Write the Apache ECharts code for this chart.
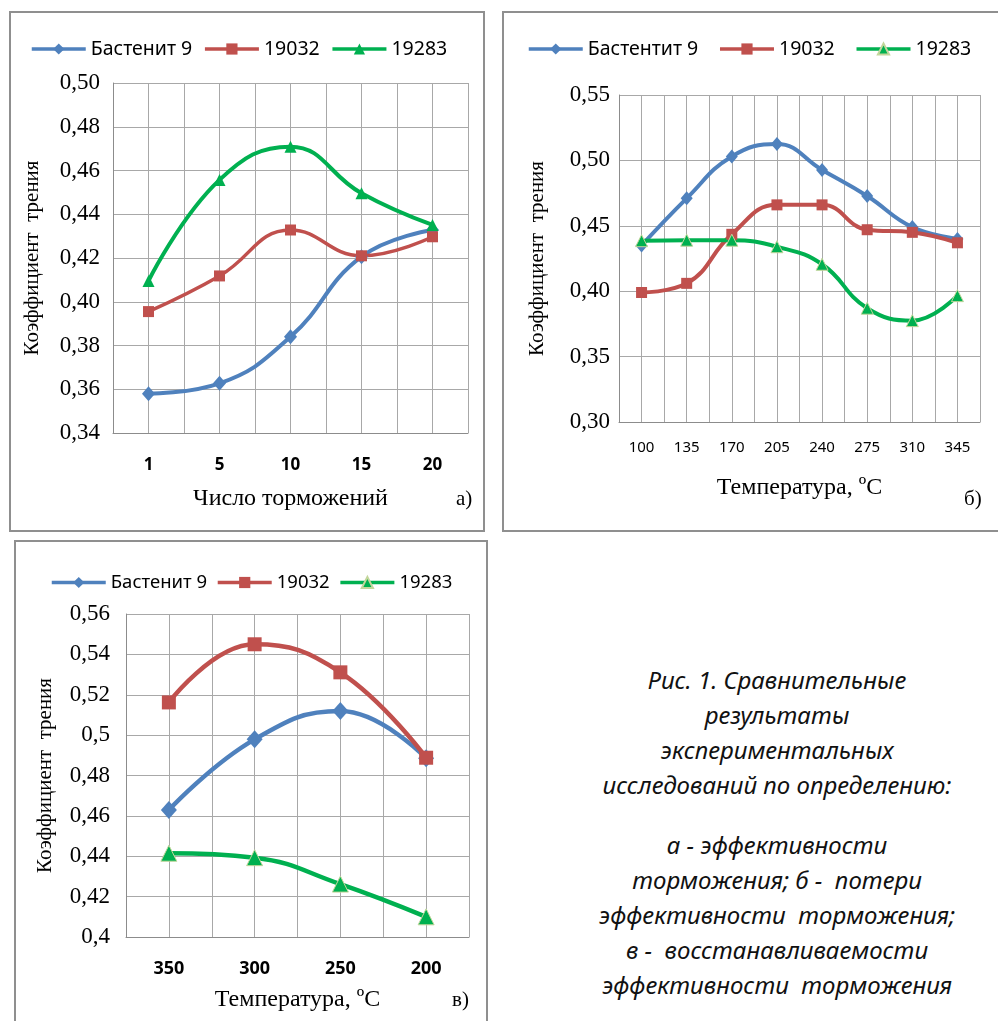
<!DOCTYPE html>
<html>
<head>
<meta charset="utf-8">
<script src="https://cdn.jsdelivr.net/npm/echarts@6/dist/echarts.min.js"></script>
<style>
    body { margin: 0; width: 998px; height: 1021px; background: #fff; position: relative; overflow: hidden; }
    .frame { position: absolute; border: 2px solid #8f8f8f; box-sizing: border-box; }
    .chart { position: absolute; }
    .caption { position: absolute; left: 547px; top: 662px; width: 460px; text-align: center;
        font-family: "Noto Sans", sans-serif; font-style: italic; font-size: 24px; line-height: 35px; color: #111; }
    .caption p { margin: 0; white-space: nowrap; }
</style>
</head>
<body>
<!-- рамки -->
<div class="frame" style="left:9px;top:11px;width:476px;height:521px;"></div>
<div class="frame" style="left:502px;top:11px;width:510px;height:521px;"></div>
<div class="frame" style="left:14px;top:540px;width:474px;height:500px;"></div>

<div id="chartA" class="chart" style="left:10px;top:12px;width:473px;height:518px;"></div>
<div id="chartB" class="chart" style="left:503px;top:12px;width:495px;height:519px;"></div>
<div id="chartC" class="chart" style="left:15px;top:541px;width:471px;height:480px;"></div>

<div class="caption">
    <p>Рис. 1. Сравнительные</p>
    <p>результаты</p>
    <p>экспериментальных</p>
    <p>исследований по определению:</p>
    <p style="margin-top:25px;">а - эффективности</p>
    <p>торможения; б -&nbsp; потери</p>
    <p>эффективности&nbsp; торможения;</p>
    <p>в -&nbsp; восстанавливаемости</p>
    <p>эффективности&nbsp; торможения</p>
</div>

<script>
// а) число торможений
const catsA = ['1', '5', '10', '15', '20'];
const bastA = [0.358, 0.3627, 0.384, 0.4206, 0.4328];
const s19032A = [0.3955, 0.4118, 0.4328, 0.421, 0.4297];
const s19283A = [0.4095, 0.4557, 0.4709, 0.4496, 0.4351];

// б) температура, потеря эффективности
const catsB = ['100', '135', '170', '205', '240', '275', '310', '345'];
const bastB = [0.435, 0.471, 0.503, 0.5125, 0.4927, 0.4728, 0.449, 0.440];
const s19032B = [0.399, 0.406, 0.4435, 0.466, 0.466, 0.447, 0.445, 0.437];
const s19283B = [0.4386, 0.439, 0.439, 0.434, 0.4206, 0.387, 0.3775, 0.3966];

// в) восстанавливаемость
const catsC = ['350', '300', '250', '200'];
const bastC = [0.4629, 0.4979, 0.5119, 0.4885];
const s19032C = [0.5162, 0.545, 0.5311, 0.4888];
const s19283C = [0.4415, 0.4393, 0.4262, 0.410];

const BLUE = '#4F81BD', RED = '#C0504D', GREEN = '#00B050';
const SERIF = '"Liberation Serif", serif';
const SANS = '"Noto Sans", sans-serif';

function lineSeries(name, data, color, symbol, size, width, border) {
    return {
        name: name,
        type: 'line',
        data: data,
        smooth: 0.45,
        symbol: symbol,
        symbolSize: size,
        lineStyle: { color: color, width: width },
        itemStyle: { color: color, borderColor: border || color, borderWidth: border ? 1 : 0 },
        z: 3
    };
}

function buildChart(divName, cfg) {
    var chart = echarts.init(document.getElementById(divName));
    var n = cfg.cats.length;
    var option = {
        animation: false,
        legend: {
            left: cfg.legendLeft, top: cfg.legendTop,
            itemWidth: 54, itemHeight: 14, itemGap: cfg.legendGap,
            lineStyle: { width: 3.5 },
            textStyle: { fontFamily: SANS, fontSize: cfg.legendFont, color: '#000' },
            data: cfg.series.map(s => s.name)
        },
        grid: cfg.grid,
        xAxis: [
            {
                type: 'category', data: cfg.cats, boundaryGap: true,
                axisLine: { lineStyle: { color: '#8c8c8c' } },
                axisTick: { show: false },
                axisLabel: { fontFamily: SANS, fontSize: cfg.xFont, fontWeight: cfg.xWeight, color: '#000', margin: cfg.xMargin },
                splitLine: { show: false },
                name: cfg.xName, nameLocation: 'middle', nameGap: cfg.xNameGap,
                nameTextStyle: { fontFamily: SERIF, fontSize: 24, color: '#000' }
            },
            {
                // вспомогательная ось для сетки через полкатегории
                type: 'value', position: 'top', min: 0, max: 2 * n, interval: 1,
                axisLine: { show: false }, axisTick: { show: false }, axisLabel: { show: false },
                splitLine: { show: true, lineStyle: { color: '#a8a8a8', width: 1 } }
            }
        ],
        yAxis: {
            type: 'value', min: cfg.yMin, max: cfg.yMax, interval: cfg.yStep,
            axisLine: { show: true, lineStyle: { color: '#8c8c8c' } },
            axisTick: { show: false },
            axisLabel: { formatter: cfg.yFormat, fontFamily: SERIF, fontSize: 23, color: '#000', margin: cfg.yMargin },
            splitLine: { show: true, lineStyle: { color: '#a8a8a8', width: 1 } },
            name: 'Коэффициент  трения', nameLocation: 'middle', nameRotate: 90, nameGap: cfg.yNameGap,
            nameTextStyle: { fontFamily: SERIF, fontSize: 21, color: '#000' }
        },
        graphic: [{
            type: 'text', left: cfg.tagPos[0], top: cfg.tagPos[1],
            style: { text: cfg.tag, font: '21px ' + SERIF, fill: '#000' }
        }],
        series: cfg.series
    };
    chart.setOption(option);
}

const fmt2 = v => v.toFixed(2).replace('.', ',');
const fmtGeneral = v => String(Number(v.toFixed(2))).replace('.', ',');

buildChart('chartA', {
    cats: catsA,
    grid: { left: 103, top: 71, width: 355, height: 350 },
    legendLeft: 15, legendTop: 22, legendGap: 11, legendFont: 19.5,
    xFont: 17, xWeight: 'bold', xMargin: 24, xName: 'Число торможений', xNameGap: 54,
    yMin: 0.34, yMax: 0.50, yStep: 0.02, yFormat: fmt2, yMargin: 13, yNameGap: 70,
    tag: 'а)', tagPos: [446, 477],
    series: [
        lineSeries('Бастенит 9', bastA, BLUE, 'diamond', [13, 15], 4),
        lineSeries('19032', s19032A, RED, 'rect', 11, 3.5),
        lineSeries('19283', s19283A, GREEN, 'triangle', 12, 4)
    ]
});

buildChart('chartB', {
    cats: catsB,
    grid: { left: 116, top: 83, width: 361, height: 327 },
    legendLeft: 19, legendTop: 22, legendGap: 20, legendFont: 19.5,
    xFont: 15, xWeight: 'normal', xMargin: 18, xName: 'Температура, ºC', xNameGap: 54,
    yMin: 0.30, yMax: 0.55, yStep: 0.05, yFormat: fmt2, yMargin: 9, yNameGap: 71,
    tag: 'б)', tagPos: [461, 477],
    series: [
        lineSeries('Бастентит 9', bastB, BLUE, 'diamond', [12, 14], 4),
        lineSeries('19032', s19032B, RED, 'rect', 11, 4),
        lineSeries('19283', s19283B, GREEN, 'triangle', 12, 4, '#C3D69B')
    ]
});

buildChart('chartC', {
    cats: catsC,
    grid: { left: 111, top: 73, width: 343, height: 323 },
    legendLeft: 30, legendTop: 27, legendGap: 9, legendFont: 18.5,
    xFont: 18, xWeight: 'bold', xMargin: 23, xName: 'Температура, ºC', xNameGap: 51,
    yMin: 0.40, yMax: 0.56, yStep: 0.02, yFormat: fmtGeneral, yMargin: 16, yNameGap: 70,
    tag: 'в)', tagPos: [437, 449],
    series: [
        lineSeries('Бастенит 9', bastC, BLUE, 'diamond', [16, 18], 4.5),
        lineSeries('19032', s19032C, RED, 'rect', 14, 4.5),
        lineSeries('19283', s19283C, GREEN, 'triangle', 16, 4.5, '#C3D69B')
    ]
});
</script>
</body>
</html>
